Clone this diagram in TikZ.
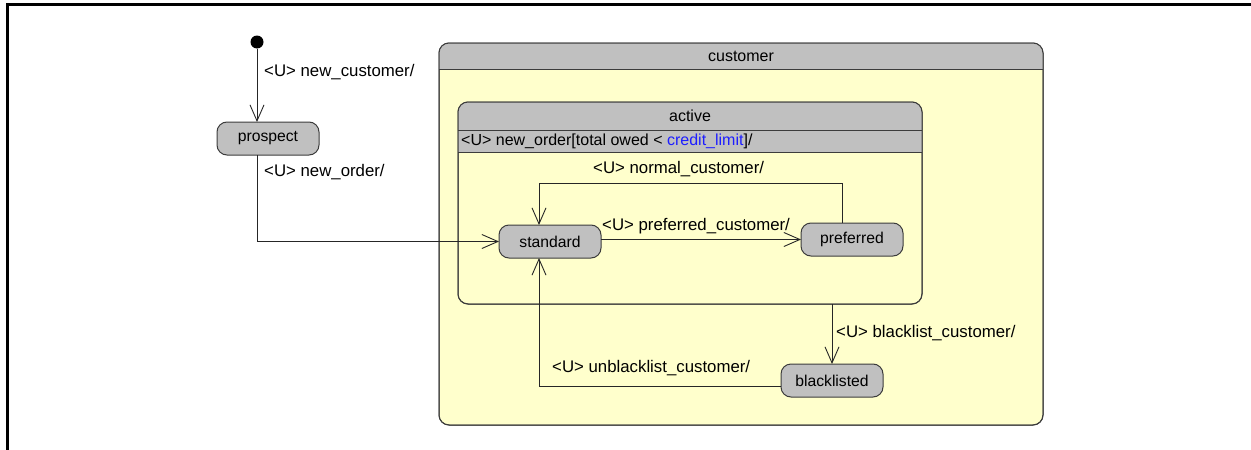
\documentclass[tikz,border=0pt]{standalone}
\usepackage{fontspec}
\setmainfont{Liberation Sans}
\usetikzlibrary{arrows.meta}
\definecolor{stgray}{RGB}{192,192,192}
\definecolor{stfill}{RGB}{255,255,204}
\definecolor{stline}{RGB}{60,60,60}
\definecolor{guard}{RGB}{30,30,255}

\begin{document}
\begin{tikzpicture}[x=1pt,y=-1pt,
  every node/.style={font=\fontsize{16}{19}\selectfont},
  state/.style={draw=stline, fill=stgray, rounded corners=10pt, line width=1pt,
    minimum width=102pt, minimum height=33pt, inner sep=0pt, outer sep=0pt,
    font=\fontsize{15.7}{19}\selectfont},
  region/.style={draw=stline, fill=stfill, rounded corners=10pt, line width=1pt,
    inner sep=0pt, outer sep=0pt, anchor=north west},
  edge/.style={draw=stline, line width=1pt},
  trans/.style={draw=black!85, line width=0.9pt,
    -{Straight Barb[length=16pt,width=14pt,line width=0.9pt]}},
  lbl/.style={anchor=west, inner sep=0pt, font=\fontsize{16.8}{20}\selectfont},
]
\useasboundingbox (0,0) rectangle (1251,450);

% frame
\draw[line width=3pt] (7,452) -- (7,4) -- (1253,4);

% composite state: customer
\node[region, minimum width=604pt, minimum height=382pt] (customer) at (439,43) {};
\begin{scope}
  \clip[rounded corners=10pt] (customer.north west) rectangle (customer.south east);
  \fill[stgray] (customer.north west) rectangle ([yshift=-26pt]customer.north east);
\end{scope}
\draw[edge] ([yshift=-26pt]customer.north west) -- ([yshift=-26pt]customer.north east);
\draw[edge, rounded corners=10pt] (customer.north west) rectangle (customer.south east);
\node (customertitle) at ([yshift=-13pt]customer.north) {customer};

% composite state: active
\node[region, minimum width=464pt, minimum height=202pt] (active) at (458,102) {};
\begin{scope}
  \clip[rounded corners=10pt] (active.north west) rectangle (active.south east);
  \fill[stgray] (active.north west) rectangle ([yshift=-50pt]active.north east);
\end{scope}
\draw[edge] ([yshift=-28pt]active.north west) -- ([yshift=-28pt]active.north east);
\draw[edge] ([yshift=-50pt]active.north west) -- ([yshift=-50pt]active.north east);
\draw[edge, rounded corners=10pt] (active.north west) rectangle (active.south east);
\node (activetitle) at ([yshift=-14pt]active.north) {active};
\node[anchor=west, inner sep=0pt] (activeint) at (461,141)
  {<U> new\_order[total owed < \textcolor{guard}{credit\_limit}]/};

% initial pseudo-state and simple states
\node[circle, fill=black, minimum size=13pt, inner sep=0pt] (init) at (257,42) {};
\node[state] (prospect) at (268,138.5) {prospect};
\node[state] (standard) at (550,241.5) {standard};
\node[state] (preferred) at (852,239.5) {preferred};
\node[state] (blacklisted) at (832,380.5) {blacklisted};

% transitions
\draw[trans] (init) -- (init |- prospect.north);
\node[lbl] (lnewcust) at (264,72) {<U> new\_customer/};

\draw[trans] (prospect.south -| init) |- (standard.west);
\node[lbl] (lneworder) at (264,172) {<U> new\_order/};

\draw[trans] (standard.east |- preferred.west) -- (preferred.west);
\node[lbl] (lpref) at (602,226) {<U> preferred\_customer/};

\draw[trans] ([xshift=-10pt]preferred.north) -- ++(0,-40) -| ([xshift=-11pt]standard.north);
\node[lbl] (lnormal) at (593,169) {<U> normal\_customer/};

\draw[trans] (blacklisted.north |- active.south) -- (blacklisted.north);
\node[lbl] (lblack) at (836,333) {<U> blacklist\_customer/};

\draw[trans] ([yshift=-5.5pt]blacklisted.west) -| ([xshift=-11pt]standard.south);
\node[lbl] (lunblack) at (552,368) {<U> unblacklist\_customer/};
\end{tikzpicture}
\end{document}
